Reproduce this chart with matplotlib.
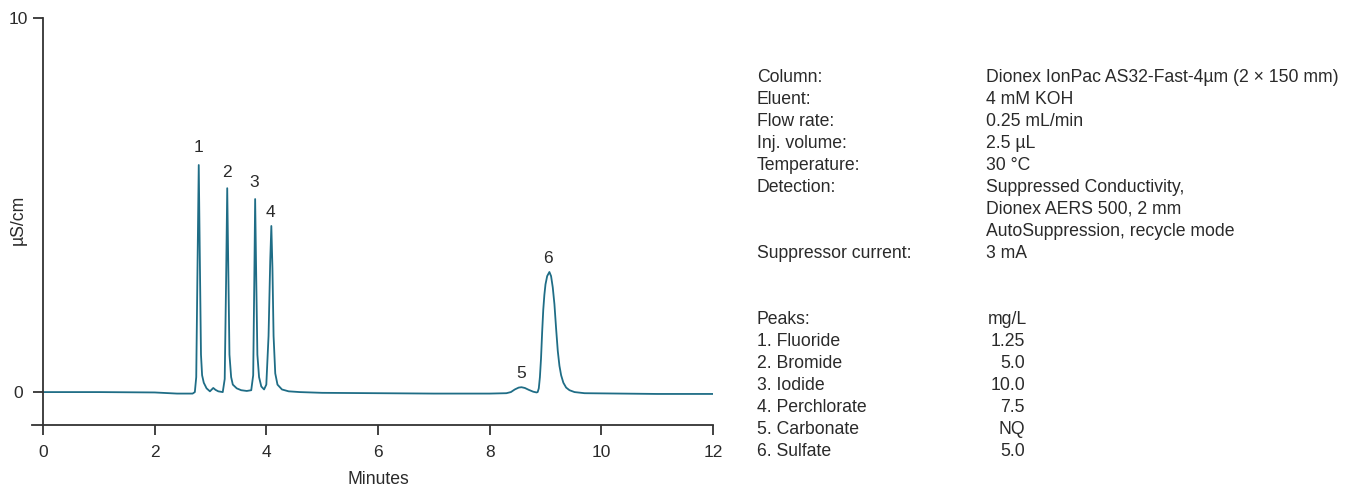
import matplotlib
matplotlib.use("Agg")
import matplotlib.pyplot as plt

plt.rcParams['font.family'] = ['Liberation Sans', 'DejaVu Sans']

# ---- chromatogram trace (time in min, signal in µS/cm) ----
trace_t = [0.00, 1.00, 2.00, 2.40, 2.68, 2.72, 2.745, 2.765, 2.79, 2.81, 2.83, 2.85, 2.88, 2.93,
           2.99, 3.05, 3.09, 3.14, 3.22, 3.255, 3.28, 3.30, 3.32, 3.34, 3.37, 3.40, 3.47,
           3.55, 3.65, 3.73, 3.765, 3.785, 3.80, 3.82, 3.84, 3.87, 3.91, 3.96, 4.00, 4.04,
           4.07, 4.09, 4.11, 4.13, 4.16, 4.20, 4.28, 4.40, 4.60, 5.00, 6.00, 7.00, 8.00,
           8.30, 8.38, 8.45, 8.52, 8.57, 8.63, 8.70, 8.78, 8.84, 8.86, 8.88, 8.90, 8.92,
           8.94, 8.96, 8.98, 9.00, 9.03, 9.07, 9.10, 9.13, 9.16, 9.19, 9.22, 9.25, 9.28,
           9.32, 9.37, 9.43, 9.52, 9.70, 11.00, 12.00]
trace_v = [0.00, 0.00, -0.01, -0.04, -0.04, 0.00, 0.40, 3.00, 6.07, 3.50, 1.00, 0.45, 0.25, 0.10,
           0.02, 0.11, 0.06, 0.02, 0.00, 0.35, 3.00, 5.45, 3.20, 1.00, 0.40, 0.20, 0.10,
           0.05, 0.03, 0.05, 0.45, 3.00, 5.16, 3.00, 1.00, 0.40, 0.15, 0.07, 0.20, 1.50,
           3.50, 4.44, 3.30, 1.50, 0.50, 0.20, 0.07, 0.02, 0.00, -0.02, -0.03, -0.04, -0.04,
           -0.03, 0.00, 0.07, 0.12, 0.13, 0.11, 0.06, 0.01, -0.01, 0.00, 0.10, 0.40, 0.90,
           1.60, 2.20, 2.60, 2.88, 3.10, 3.21, 3.10, 2.80, 2.35, 1.70, 1.10, 0.70, 0.45,
           0.25, 0.12, 0.05, 0.00, -0.03, -0.05, -0.05]

# ---- peak labels ----
peak_ids = ['1', '2', '3', '4', '5', '6']
peak_label_t = [2.78, 3.30, 3.78, 4.08, 8.56, 9.05]
peak_label_v = [6.55, 5.88, 5.59, 4.81, 0.51, 3.56]

# ---- axes ticks ----
x_ticks = [0, 2, 4, 6, 8, 10, 12]
y_ticks = [0, 10]

# ---- conditions text ----
cond_labels = ['Column:', 'Eluent:', 'Flow rate:', 'Inj. volume:', 'Temperature:',
               'Detection:', '', '', 'Suppressor current:']
cond_values = ['Dionex IonPac AS32-Fast-4µm (2 × 150 mm)', '4 mM KOH', '0.25 mL/min',
               '2.5 µL', '30 °C', 'Suppressed Conductivity,', 'Dionex AERS 500, 2 mm',
               'AutoSuppression, recycle mode', '3 mA']
peak_names = ['1. Fluoride', '2. Bromide', '3. Iodide', '4. Perchlorate',
              '5. Carbonate', '6. Sulfate']
peak_conc = ['1.25', '5.0', '10.0', '7.5', 'NQ', '5.0']
conc_unit = 'mg/L'

W, H = 1349, 491
fig = plt.figure(figsize=(W / 100, H / 100), dpi=100)
ax = fig.add_axes([31.8 / W, (H - 425) / H, (713 - 31.8) / W, (425 - 18) / H])

line_color = '#1f6d86'
axis_color = '#333333'
text_color = '#2a2a2a'
fs = 12.7

ax.plot(trace_t, trace_v, color=line_color, lw=1.3, solid_joinstyle='round')

ax.set_xlim(-0.2, 12)
ax.set_ylim(-0.88, 10)
ax.spines['top'].set_visible(False)
ax.spines['right'].set_visible(False)
ax.spines['left'].set_position(('data', 0))
ax.spines['left'].set_bounds(-0.88, 10)
for s in ('left', 'bottom'):
    ax.spines[s].set_color(axis_color)
    ax.spines[s].set_linewidth(1.3)

ax.set_xticks(x_ticks)
ax.set_yticks(y_ticks)
ax.set_xticklabels([str(v) for v in x_ticks])
ax.set_yticklabels([str(v) for v in y_ticks])
ax.tick_params(axis='x', direction='out', length=7.2, width=1.3, color=axis_color,
               pad=7, labelsize=12.5, labelcolor=text_color)
ax.tick_params(axis='y', direction='out', length=7.2, width=1.3, color=axis_color,
               pad=10.5, labelsize=12.5, labelcolor=text_color)
for lbl in ax.get_yticklabels():
    lbl.set_horizontalalignment('center')

ax.set_xlabel('Minutes', fontsize=fs, color=text_color)
ax.xaxis.set_label_coords((6 + 0.2) / 12.2, (425 - 471) / 407)
ax.set_ylabel('µS/cm', fontsize=fs, color=text_color, va='center')
ax.yaxis.set_label_coords((18.5 - 31.8) / (713 - 31.8), (425 - 220) / 407)

for pid, pt, pv in zip(peak_ids, peak_label_t, peak_label_v):
    ax.text(pt, pv, pid, ha='center', va='center', fontsize=12.5, color=text_color)

# conditions block
x_lab = 757 / W
x_val = 986 / W
for i, (lab, val) in enumerate(zip(cond_labels, cond_values)):
    y = 1 - (78 + 21.9 * i) / H
    if lab:
        fig.text(x_lab, y, lab, ha='left', va='center', fontsize=fs, color=text_color)
    fig.text(x_val, y, val, ha='left', va='center', fontsize=fs, color=text_color)

y0 = 320
fig.text(x_lab, 1 - y0 / H, 'Peaks:', ha='left', va='center', fontsize=fs, color=text_color)
fig.text(988 / W, 1 - y0 / H, conc_unit, ha='left', va='center', fontsize=fs, color=text_color)
for i, (nm, c) in enumerate(zip(peak_names, peak_conc)):
    y = 1 - (y0 + 22 * (i + 1)) / H
    fig.text(x_lab, y, nm, ha='left', va='center', fontsize=fs, color=text_color)
    fig.text(1025 / W, y, c, ha='right', va='center', fontsize=fs, color=text_color)

fig.savefig('out.png', dpi=100)
